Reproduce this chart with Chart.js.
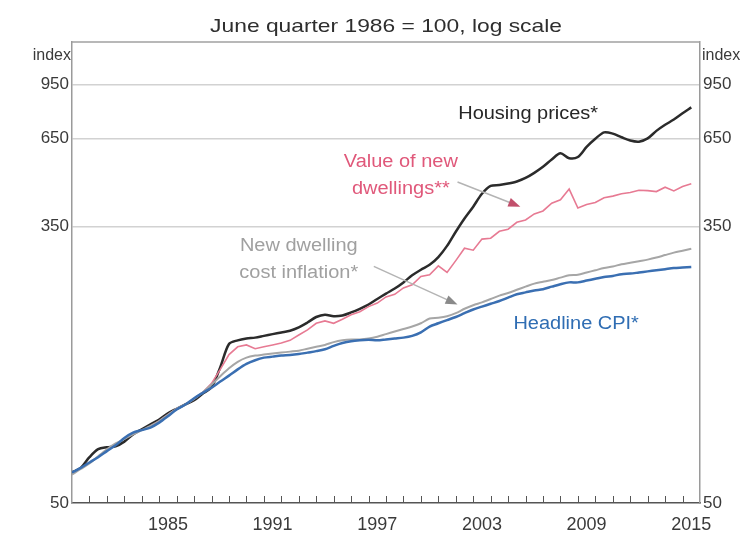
<!DOCTYPE html>
<html>
<head>
<meta charset="utf-8">
<script src="https://cdn.jsdelivr.net/npm/chart.js@4.4.1/dist/chart.umd.min.js"></script>
<style>
  html, body { margin: 0; padding: 0; background: #fff; }
  canvas { filter: blur(0.4px); }
</style>
</head>
<body>
<canvas id="chart" width="754" height="538"></canvas>
<script>
// half-yearly observations, June quarter 1986 = 100
const years = [
  1980, 1980.5, 1981, 1981.5, 1982, 1982.5, 1983, 1983.5, 1984, 1984.5,
  1985, 1985.5, 1986, 1986.5, 1987, 1987.5, 1988, 1988.5, 1989, 1989.5,
  1990, 1990.5, 1991, 1991.5, 1992, 1992.5, 1993, 1993.5, 1994, 1994.5,
  1995, 1995.5, 1996, 1996.5, 1997, 1997.5, 1998, 1998.5, 1999, 1999.5,
  2000, 2000.5, 2001, 2001.5, 2002, 2002.5, 2003, 2003.5, 2004, 2004.5,
  2005, 2005.5, 2006, 2006.5, 2007, 2007.5, 2008, 2008.5, 2009, 2009.5,
  2010, 2010.5, 2011, 2011.5, 2012, 2012.5, 2013, 2013.5, 2014, 2014.5,
  2015, 2015.5
];

const housingPrices = [
  62, 64, 69, 73, 74, 74.5, 77, 81, 84, 87,
  90, 94, 97, 100, 103, 108, 113, 130, 153, 157,
  159, 160, 162, 164, 166, 168, 172, 178, 185, 188,
  186, 187, 191, 196, 202, 210, 218, 226, 236, 248,
  258, 267, 282, 305, 337, 370, 402, 440, 465, 468,
  473, 480, 492, 510, 532, 560, 585, 565, 570, 612,
  648, 678, 672, 655, 640, 635, 650, 685, 715, 742,
  775, 808
];

const newDwellingValue = [
  null, null, null, null, null, null, null, null, null, 86,
  89, 93, 97, 100, 104, 109, 116, 128, 142, 150,
  152, 148, 150, 152, 154, 157, 163, 169, 177, 180,
  177, 182, 188, 192, 199, 204, 213, 217, 227, 232,
  246, 249, 265, 253, 275, 300, 296, 320, 322, 338,
  343, 360, 366, 382, 390, 412, 422, 455, 398, 408,
  414, 428, 433, 440, 444, 451, 450, 447, 461, 449,
  463, 472
];

const dwellingCost = [
  61, 63.5, 66, 69.5, 73, 76, 78.5, 81, 83.5, 86,
  89, 93, 97, 100, 104, 109, 115, 122, 129, 135,
  139, 141, 142, 143, 144, 145, 146, 148, 150, 152,
  155, 157, 158, 158, 159, 161, 164, 167, 170, 173,
  177, 183, 184, 186, 190, 196, 201, 205, 210, 215,
  219, 224, 229, 234, 237, 240, 244, 248, 249, 253,
  257, 261, 264, 268, 271, 274, 277, 281, 286, 291,
  295, 299
];

const headlineCpi = [
  62, 64, 66.5, 69, 72, 75, 79, 82, 83.5, 85,
  88, 92, 96.5, 100, 104.5, 108.5, 112.5, 117.5, 122.5, 128,
  133, 136.5, 139, 140, 141, 141.5, 142.5, 144, 145.5, 147.5,
  151, 154, 156, 157, 157.5, 157, 158, 159, 160, 162,
  166, 173, 177, 181, 185, 190, 195, 199, 203, 207,
  212, 217, 220, 223, 225, 229, 233, 236, 236, 239,
  242, 245, 247, 250, 251, 253, 255, 257, 259, 261,
  262, 263
];

const yTicks = [50, 350, 650, 950];
const xLabelYears = [1985, 1991, 1997, 2003, 2009, 2015];
const xMinorYears = [];
for (let y = 1981; y <= 2015; y++) xMinorYears.push(y);

const FONT = '"Liberation Sans", Arial, sans-serif';

// labels placed in data units
const notes = [
  { lines: ['Housing prices*'], x: 2006.15, y: 770, color: '#262626' },
  { lines: ['Value of new', 'dwellings**'], x: 1998.85, y: 550, color: '#e0587a' },
  { lines: ['New dwelling', 'cost inflation*'], x: 1993.0, y: 305, color: '#a0a0a0' },
  { lines: ['Headline CPI*'], x: 2008.9, y: 176, color: '#2f6db3' }
];
const arrows = [
  { from: [2002.1, 478], to: [2005.7, 402], line: '#b4b4b4', head: '#c2506c' },
  { from: [1997.3, 264], to: [2002.1, 202], line: '#b4b4b4', head: '#8a8a8a' }
];

const pts = vals => vals.map((v, i) => ({ x: years[i], y: v }));

// text drawn with a horizontal stretch, as in the scanned original
function stretchedText(ctx, text, x, y, sx) {
  ctx.save();
  ctx.translate(x, y);
  ctx.scale(sx, 1);
  ctx.fillText(text, 0, 0);
  ctx.restore();
}

const decorations = {
  id: 'decorations',
  afterDatasetsDraw(chart) {
    const { ctx, chartArea: a, scales } = chart;
    const xs = scales.x, ys = scales.y;
    ctx.save();

    // top frame line
    ctx.strokeStyle = '#a0a0a0';
    ctx.lineWidth = 1.5;
    ctx.beginPath();
    ctx.moveTo(a.left, a.top);
    ctx.lineTo(a.right, a.top);
    ctx.stroke();

    // inward year ticks
    ctx.strokeStyle = '#555';
    ctx.lineWidth = 1;
    xMinorYears.forEach(yr => {
      const px = Math.round(xs.getPixelForValue(yr)) + 0.5;
      ctx.beginPath();
      ctx.moveTo(px, a.bottom);
      ctx.lineTo(px, a.bottom - 7);
      ctx.stroke();
    });

    // title and unit labels
    ctx.fillStyle = '#2e2e2e';
    ctx.font = '19px ' + FONT;
    ctx.textAlign = 'center';
    ctx.textBaseline = 'middle';
    stretchedText(ctx, 'June quarter 1986 = 100, log scale', (a.left + a.right) / 2, 27, 1.2);
    ctx.font = '16px ' + FONT;
    ctx.fillStyle = '#3a3a3a';
    ctx.textAlign = 'right';
    ctx.fillText('index', a.left - 1, 56);
    ctx.textAlign = 'left';
    ctx.fillText('index', a.right + 2, 56);

    // series labels
    ctx.font = '18px ' + FONT;
    ctx.textAlign = 'center';
    notes.forEach(n => {
      const px = xs.getPixelForValue(n.x);
      const py = ys.getPixelForValue(n.y);
      ctx.fillStyle = n.color;
      n.lines.forEach((t, i) => stretchedText(ctx, t, px, py + i * 27, 1.11));
    });

    // arrows
    arrows.forEach(ar => {
      const x0 = xs.getPixelForValue(ar.from[0]), y0 = ys.getPixelForValue(ar.from[1]);
      const x1 = xs.getPixelForValue(ar.to[0]), y1 = ys.getPixelForValue(ar.to[1]);
      const ang = Math.atan2(y1 - y0, x1 - x0);
      ctx.strokeStyle = ar.line;
      ctx.lineWidth = 1.5;
      ctx.beginPath();
      ctx.moveTo(x0, y0);
      ctx.lineTo(x1 - 8 * Math.cos(ang), y1 - 8 * Math.sin(ang));
      ctx.stroke();
      ctx.fillStyle = ar.head;
      ctx.beginPath();
      ctx.moveTo(x1, y1);
      ctx.lineTo(x1 - 12 * Math.cos(ang) + 4.5 * Math.sin(ang), y1 - 12 * Math.sin(ang) - 4.5 * Math.cos(ang));
      ctx.lineTo(x1 - 12 * Math.cos(ang) - 4.5 * Math.sin(ang), y1 - 12 * Math.sin(ang) + 4.5 * Math.cos(ang));
      ctx.closePath();
      ctx.fill();
    });
    ctx.restore();
  }
};

new Chart(document.getElementById('chart'), {
  type: 'line',
  data: {
    datasets: [
      { label: 'Headline CPI', data: pts(headlineCpi), borderColor: '#3a6fb2', borderWidth: 2.5, tension: 0.3 },
      { label: 'New dwelling cost inflation', data: pts(dwellingCost), borderColor: '#a6a6a6', borderWidth: 2, tension: 0.3 },
      { label: 'Value of new dwellings', data: pts(newDwellingValue), borderColor: '#e77a93', borderWidth: 1.6, tension: 0 },
      { label: 'Housing prices', data: pts(housingPrices), borderColor: '#2b2b2b', borderWidth: 2.5, tension: 0.3 }
    ]
  },
  options: {
    responsive: false,
    animation: false,
    devicePixelRatio: 1,
    layout: { padding: { top: 42, left: 0, right: 0, bottom: 0 } },
    elements: { point: { radius: 0 } },
    plugins: { legend: { display: false }, tooltip: { enabled: false } },
    scales: {
      x: {
        type: 'linear',
        min: 1980,
        max: 2016,
        afterBuildTicks: s => { s.ticks = xLabelYears.map(v => ({ value: v + 0.5 })); },
        afterFit: s => { s.height = 35; },
        ticks: { callback: v => String(v - 0.5), autoSkip: false, maxRotation: 0, font: { family: FONT, size: 18 }, color: '#3a3a3a', padding: 11 },
        grid: { display: false, drawTicks: false },
        border: { display: true, color: '#555', width: 1.5 }
      },
      y: {
        type: 'logarithmic',
        position: 'left',
        min: 50,
        max: 1280,
        afterBuildTicks: s => { s.ticks = yTicks.map(v => ({ value: v })); },
        afterFit: s => { s.width = 72; },
        ticks: { callback: v => String(v), autoSkip: false, font: { family: FONT, size: 17 }, color: '#3a3a3a', padding: 3 },
        grid: { color: c => (c.tick && c.tick.value === 50 ? 'rgba(0,0,0,0)' : '#d2d2d2'), lineWidth: 1.5, drawTicks: false },
        border: { color: '#9a9a9a', width: 1.5 }
      },
      y2: {
        type: 'logarithmic',
        position: 'right',
        min: 50,
        max: 1280,
        afterBuildTicks: s => { s.ticks = yTicks.map(v => ({ value: v })); },
        afterFit: s => { s.width = 54; },
        ticks: { callback: v => String(v), autoSkip: false, font: { family: FONT, size: 17 }, color: '#3a3a3a', padding: 3 },
        grid: { drawOnChartArea: false, drawTicks: false },
        border: { color: '#9a9a9a', width: 1.5 }
      }
    }
  },
  plugins: [decorations]
});
</script>
</body>
</html>
